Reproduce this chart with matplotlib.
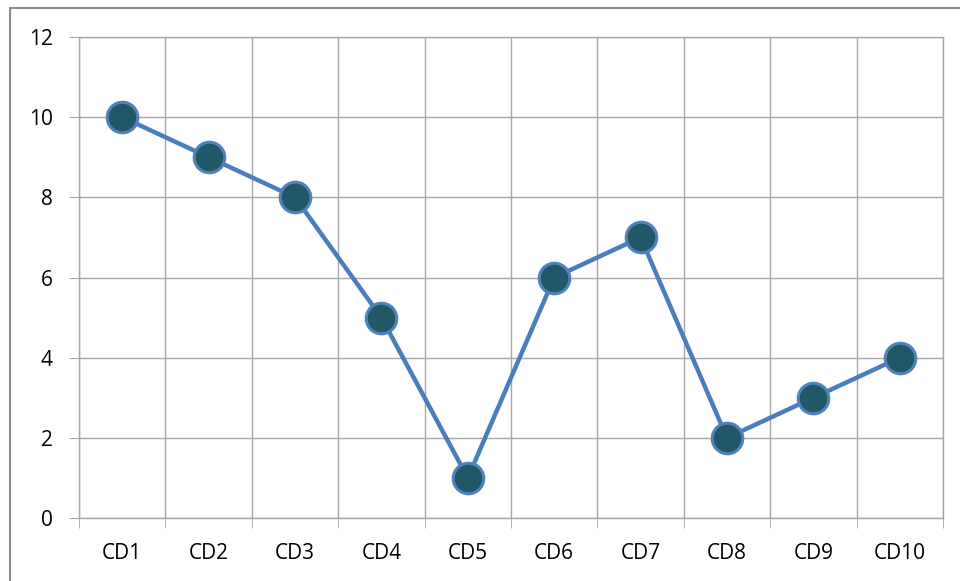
import numpy as np
import matplotlib.pyplot as plt
from matplotlib.patches import Rectangle

categories = ['CD1', 'CD2', 'CD3', 'CD4', 'CD5', 'CD6', 'CD7', 'CD8', 'CD9', 'CD10']
values = [10, 9, 8, 5, 1, 6, 7, 2, 3, 4]
y_ticks = [0, 2, 4, 6, 8, 10, 12]

plt.rcParams['font.family'] = ['Open Sans', 'DejaVu Sans']

fig = plt.figure(figsize=(9.6, 5.81), dpi=100)
ax = fig.add_axes([79/960, 1-518/581, (943-79)/960, (518-37)/581])

# outer chart border (runs off right/bottom like the screenshot)
fig.patches.append(Rectangle((10/960, -0.05), 1.0, 1-8/581+0.05, transform=fig.transFigure,
                             fill=False, edgecolor='#8c8c8c', linewidth=1.5))

x = np.arange(len(categories))
ax.plot(x, values, color='#4a7ebb', linewidth=3.2, marker='o', markersize=22,
        markerfacecolor='#215868', markeredgecolor='#4f81bd', markeredgewidth=2.2, zorder=3)

ax.set_xlim(-0.5, len(categories) - 0.5)
ax.set_ylim(0, 12)
ax.set_yticks(y_ticks)
ax.set_xticks(x)
ax.set_xticklabels(categories)
ax.set_xticks(np.arange(-0.5, len(categories)), minor=True)

ax.grid(True, which='major', axis='y', color='#a6a6a6', linewidth=1)
ax.grid(True, which='minor', axis='x', color='#a6a6a6', linewidth=1)
ax.set_axisbelow(True)

ax.tick_params(axis='x', which='major', length=0, pad=18, labelsize=15, colors='#000000')
ax.tick_params(axis='x', which='minor', length=7, color='#a6a6a6', direction='out')
ax.tick_params(axis='y', length=7, color='#a6a6a6', pad=12, labelsize=15)

for s in ax.spines.values():
    s.set_color('#a6a6a6')
    s.set_linewidth(1)

fig.savefig('out.png', dpi=100)
